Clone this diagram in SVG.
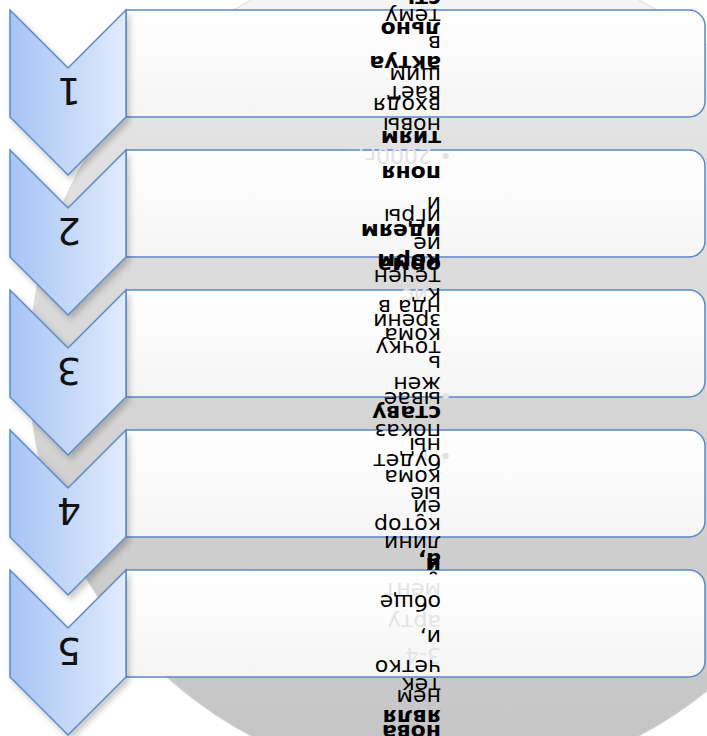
<svg xmlns="http://www.w3.org/2000/svg" width="707" height="736" viewBox="0 0 707 736">
<style>
.t{font-family:"DejaVu Sans","Liberation Sans",sans-serif;font-size:22px;fill:#000}
.b{font-weight:bold}
.f{fill:#e3e3e3}
.num{font-family:"DejaVu Sans","Liberation Sans",sans-serif;font-size:38px;fill:#111;text-anchor:middle}
.chev{fill:url(#gChev);stroke:#5b89c8;stroke-width:1.5;filter:url(#sh)}
.box{fill:url(#gBox);stroke:#5b89c8;stroke-width:1.5}
</style>
<defs>
<linearGradient id="gBg" gradientUnits="userSpaceOnUse" x1="0" y1="-48" x2="0" y2="784">
<stop offset="0" stop-color="#fbfbfb"/>
<stop offset="0.22" stop-color="#e2e2e2"/>
<stop offset="1" stop-color="#c3c3c3"/>
</linearGradient>
<linearGradient id="gChev" x1="0" y1="0" x2="1" y2="0">
<stop offset="0" stop-color="#a6c4f5"/>
<stop offset="1" stop-color="#e1ebfb"/>
</linearGradient>
<linearGradient id="gBox" x1="0" y1="0" x2="0" y2="1">
<stop offset="0" stop-color="#ffffff"/>
<stop offset="1" stop-color="#f5f5f5"/>
</linearGradient>
<filter id="sh" x="-20%" y="-20%" width="150%" height="150%">
<feDropShadow dx="3" dy="4" stdDeviation="3" flood-color="#000" flood-opacity="0.22"/>
</filter>
</defs>
<rect width="707" height="736" fill="#ffffff"/>
<circle id="backdrop" cx="445" cy="368" r="416" fill="url(#gBg)" stroke="#dadada" stroke-width="1"/>
<g id="connectors"/>
<g id="node1">
<path class="box" d="M126,10 H689 A16,16 0 0 1 705,26 V101 A16,16 0 0 1 689,117 H126 Z"/>
<path class="chev" d="M10,10 L68,68 L126,10 L126,117 L68,175 L10,117 Z"/>
<text class="num" transform="translate(69,78) rotate(180)">1</text>
</g>
<g id="node2">
<path class="box" d="M126,150 H689 A16,16 0 0 1 705,166 V241 A16,16 0 0 1 689,257 H126 Z"/>
<path class="chev" d="M10,150 L68,208 L126,150 L126,257 L68,315 L10,257 Z"/>
<text class="num" transform="translate(69,218) rotate(180)">2</text>
</g>
<g id="node3">
<path class="box" d="M126,290 H689 A16,16 0 0 1 705,306 V381 A16,16 0 0 1 689,397 H126 Z"/>
<path class="chev" d="M10,290 L68,348 L126,290 L126,397 L68,455 L10,397 Z"/>
<text class="num" transform="translate(69,358) rotate(180)">3</text>
</g>
<g id="node4">
<path class="box" d="M126,430 H689 A16,16 0 0 1 705,446 V521 A16,16 0 0 1 689,537 H126 Z"/>
<path class="chev" d="M10,430 L68,488 L126,430 L126,537 L68,595 L10,537 Z"/>
<text class="num" transform="translate(69,498) rotate(180)">4</text>
</g>
<g id="node5">
<path class="box" d="M126,570 H689 A16,16 0 0 1 705,586 V661 A16,16 0 0 1 689,677 H126 Z"/>
<path class="chev" d="M10,570 L68,628 L126,570 L126,677 L68,735 L10,677 Z"/>
<text class="num" transform="translate(69,638) rotate(180)">5</text>
</g>
<g id="faint">
<text class="t f" transform="translate(452,148) rotate(180)">• 2000г.</text>
<text class="t f" transform="translate(428,289) rotate(180)">ис</text>
<text class="t f" transform="translate(452,388) rotate(180)">•</text>
<text class="t f" transform="translate(452,448) rotate(180)">• т</text>
<text class="t f" transform="translate(441,583) rotate(180)">мент</text>
<text class="t f" transform="translate(441,615) rotate(180)">арту</text>
<text class="t f" transform="translate(441,648) rotate(180)">3-4</text>
</g>
<g id="text1">
<text class="t b" transform="translate(441,-8) rotate(180)">сть</text>
<text class="t" transform="translate(441,9) rotate(180)">тему</text>
<text class="t b" transform="translate(441,22) rotate(180)">льно</text>
<text class="t" transform="translate(441,36) rotate(180)">в</text>
<text class="t b" transform="translate(441,56) rotate(180)">актуа</text>
<text class="t" transform="translate(441,68) rotate(180)">щим</text>
<text class="t" transform="translate(441,86) rotate(180)">вает</text>
<text class="t" transform="translate(441,98) rotate(180)">входя</text>
<text class="t" transform="translate(441,118) rotate(180)">новы</text>
<text class="t b" transform="translate(441,131) rotate(180)">тиям</text>
</g>
<g id="text2">
<text class="t b" transform="translate(441,166) rotate(180)">поня</text>
<text class="t" transform="translate(441,197) rotate(180)">и</text>
<text class="t" transform="translate(441,209) rotate(180)">игры</text>
<text class="t b" transform="translate(441,224) rotate(180)">идеям</text>
<text class="t" transform="translate(441,237) rotate(180)">ие</text>
<text class="t b" transform="translate(441,254) rotate(180)">корм</text>
<text class="t b" transform="translate(441,258) rotate(180)">орма</text>
<text class="t" transform="translate(441,270) rotate(180)">течен</text>
</g>
<g id="text3">
<text class="t" transform="translate(441,288) rotate(180)">к</text>
<text class="t" transform="translate(441,300) rotate(180)">нда в</text>
<text class="t" transform="translate(441,314) rotate(180)">зрени</text>
<text class="t" transform="translate(441,328) rotate(180)">кома</text>
<text class="t" transform="translate(441,341) rotate(180)">точку</text>
<text class="t" transform="translate(441,356) rotate(180)">ь</text>
<text class="t" transform="translate(441,377) rotate(180)">жен</text>
<text class="t" transform="translate(441,392) rotate(180)">ывае</text>
<text class="t b" transform="translate(441,406) rotate(180)">ставу</text>
</g>
<g id="text4">
<text class="t" transform="translate(441,424) rotate(180)">показ</text>
<text class="t" transform="translate(441,438) rotate(180)">ны</text>
<text class="t" transform="translate(441,454) rotate(180)">будет</text>
<text class="t" transform="translate(441,470) rotate(180)">кома</text>
<text class="t" transform="translate(441,487) rotate(180)">ые</text>
<text class="t" transform="translate(441,500) rotate(180)">ей</text>
<text class="t" transform="translate(441,518) rotate(180)">котор</text>
<text class="t" transform="translate(441,536) rotate(180)">лини</text>
<text class="t b" transform="translate(441,553) rotate(180)">а,</text>
</g>
<g id="text5">
<text class="t b" transform="translate(441,558) rotate(180)">й</text>
<text class="t" transform="translate(441,595) rotate(180)">обще</text>
<text class="t" transform="translate(441,630) rotate(180)">и,</text>
<text class="t" transform="translate(441,660) rotate(180)">четко</text>
<text class="t" transform="translate(441,678) rotate(180)">тек</text>
<text class="t" transform="translate(441,690) rotate(180)">нем</text>
<text class="t b" transform="translate(441,710) rotate(180)">явля</text>
<text class="t b" transform="translate(441,725) rotate(180)">нова</text>
</g>
</svg>
